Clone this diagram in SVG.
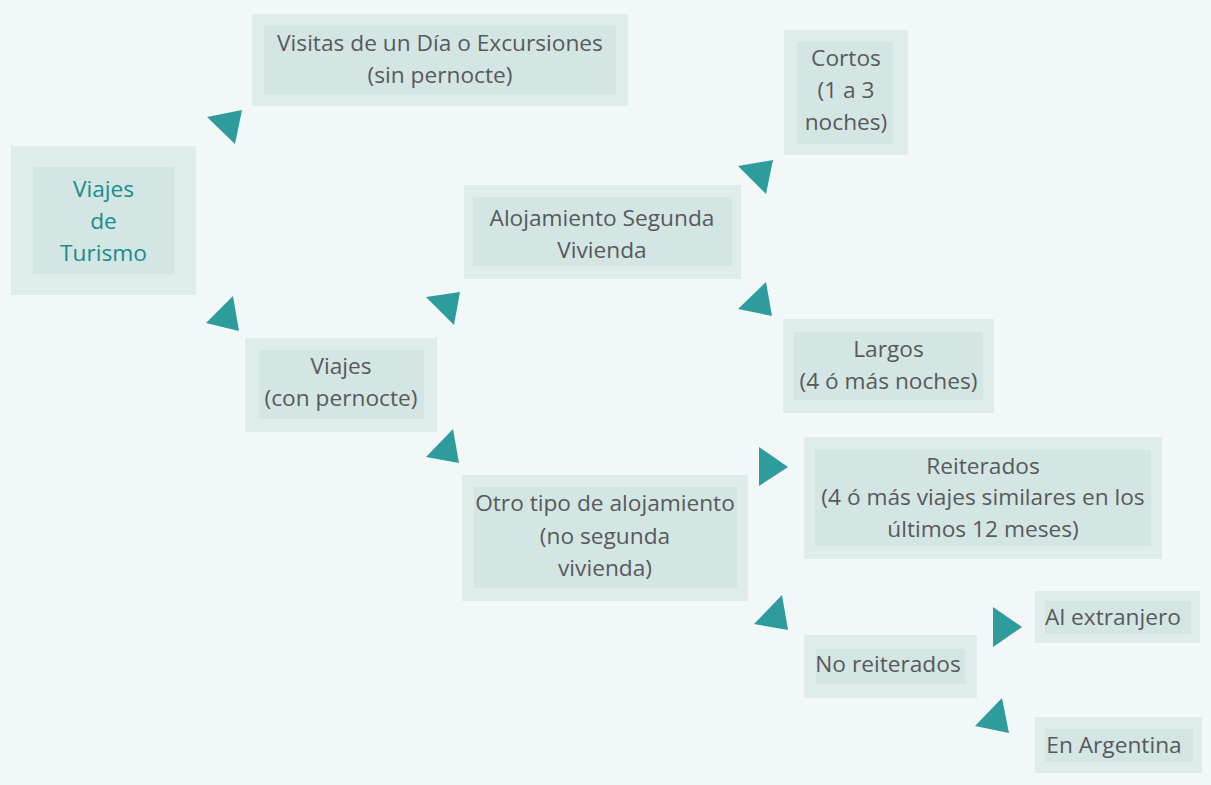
<svg xmlns="http://www.w3.org/2000/svg" width="1211" height="785" viewBox="0 0 1211 785">
<style>
.o{fill:#deecea}
.i{fill:#d3e6e4}
.t{font-family:"Open Sans","Noto Sans","Liberation Sans",sans-serif;font-size:22.7px;fill:#58595b;text-anchor:middle}
.h{fill:#1a8c8c}
.a{fill:#2e9c9c}
</style>
<rect width="1211" height="785" fill="#f2f8f8"/>
<g id="turismo"><rect class="o" x="11" y="146" width="185" height="149"/><rect class="i" x="33" y="167" width="141" height="107"/>
<text class="t h" x="103.5"><tspan x="103.5" y="197">Viajes</tspan><tspan x="103.5" y="229">de</tspan><tspan x="103.5" y="261">Turismo</tspan></text></g>
<g id="visitas"><rect class="o" x="252" y="14" width="376" height="92"/><rect class="i" x="264" y="26" width="352" height="68"/>
<text class="t"><tspan x="440" y="51">Visitas de un Día o Excursiones</tspan><tspan x="440" y="83">(sin pernocte)</tspan></text></g>
<g id="conpernocte"><rect class="o" x="245" y="338" width="192" height="94"/><rect class="i" x="259" y="350" width="165" height="69"/>
<text class="t"><tspan x="341" y="374">Viajes</tspan><tspan x="341" y="406">(con pernocte)</tspan></text></g>
<g id="segunda"><rect class="o" x="464" y="185" width="277" height="94"/><rect class="i" x="473" y="197" width="259" height="69"/>
<text class="t"><tspan x="602" y="226">Alojamiento Segunda</tspan><tspan x="602" y="258">Vivienda</tspan></text></g>
<g id="otro"><rect class="o" x="462" y="475" width="286" height="126"/><rect class="i" x="474" y="487" width="263" height="101"/>
<text class="t"><tspan x="605" y="511">Otro tipo de alojamiento</tspan><tspan x="605" y="544">(no segunda</tspan><tspan x="605" y="576">vivienda)</tspan></text></g>
<g id="cortos"><rect class="o" x="784" y="30" width="124" height="125"/><rect class="i" x="797" y="42" width="96" height="102"/>
<text class="t"><tspan x="846" y="66">Cortos</tspan><tspan x="846" y="98">(1 a 3</tspan><tspan x="846" y="130">noches)</tspan></text></g>
<g id="largos"><rect class="o" x="783" y="319" width="211" height="94"/><rect class="i" x="794" y="332" width="189" height="68"/>
<text class="t"><tspan x="888.5" y="357">Largos</tspan><tspan x="888.5" y="389">(4 ó más noches)</tspan></text></g>
<g id="reiterados"><rect class="o" x="804" y="437" width="358" height="122"/><rect class="i" x="815" y="450" width="336" height="96"/>
<text class="t"><tspan x="983" y="474">Reiterados</tspan><tspan x="983" y="505">(4 ó más viajes similares en los</tspan><tspan x="983" y="537">últimos 12 meses)</tspan></text></g>
<g id="noreiterados"><rect class="o" x="804" y="635" width="173" height="63"/><rect class="i" x="816" y="649" width="149" height="35"/>
<text class="t"><tspan x="888" y="672">No reiterados</tspan></text></g>
<g id="extranjero"><rect class="o" x="1035" y="591" width="165" height="52"/><rect class="i" x="1045" y="601" width="146" height="33"/>
<text class="t"><tspan x="1113" y="625">Al extranjero</tspan></text></g>
<g id="argentina"><rect class="o" x="1035" y="717" width="167" height="56"/><rect class="i" x="1045" y="729" width="148" height="33"/>
<text class="t"><tspan x="1114" y="753">En Argentina</tspan></text></g>
<g id="connectors">
<polygon class="a" points="207,117 242,110 235,144"/>
<polygon class="a" points="206,323 233,296 239,331"/>
<polygon class="a" points="426,297 460,292 454,325"/>
<polygon class="a" points="426,457 453,429 459,463"/>
<polygon class="a" points="738,166 773,160 766,194"/>
<polygon class="a" points="738,309 766,282 772,316"/>
<polygon class="a" points="759,447 788,467 759,486"/>
<polygon class="a" points="754,624 782,595 788,630"/>
<polygon class="a" points="993,607 1022,627 993,647"/>
<polygon class="a" points="975,726 1002,698 1009,733"/>
</g>
</svg>
